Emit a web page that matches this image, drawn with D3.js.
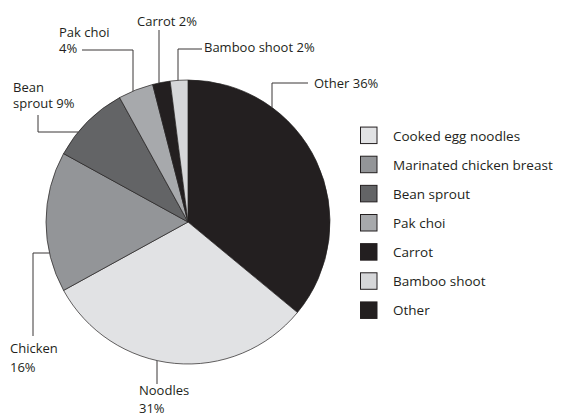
<!DOCTYPE html>
<html>
<head>
<meta charset="utf-8">
<script src="https://cdn.jsdelivr.net/npm/d3@7"></script>
<style>
  html, body { margin: 0; padding: 0; background: #fff; }
  svg text { font-family: "Open Sans", "Noto Sans", sans-serif; fill: #231f20; }
</style>
</head>
<body>
<svg id="chart" width="565" height="414"></svg>
<script>
// Slice data, clockwise from 12 o'clock
const sliceNames  = ["Other", "Noodles", "Chicken", "Bean sprout", "Pak choi", "Carrot", "Bamboo shoot"];
const sliceValues = [36, 31, 16, 9, 4, 2, 2];
const sliceColors = ["#231f20", "#e1e2e4", "#939598", "#636466", "#a7a9ac", "#231f20", "#d6d7d9"];

// Legend entries
const legendNames  = ["Cooked egg noodles", "Marinated chicken breast", "Bean sprout", "Pak choi", "Carrot", "Bamboo shoot", "Other"];
const legendColors = ["#e1e2e4", "#939598", "#636466", "#a7a9ac", "#231f20", "#d6d7d9", "#231f20"];

const svg = d3.select("#chart");
const cx = 188, cy = 222, r = 142;
const ink = "#231f20";

const pie = d3.pie().sort(null).value(d => d.value);
const arc = d3.arc().innerRadius(0).outerRadius(r);
const data = sliceNames.map((n, i) => ({ name: n, value: sliceValues[i], color: sliceColors[i] }));
const arcs = pie(data);

const g = svg.append("g").attr("transform", `translate(${cx},${cy})`);
g.selectAll("path.slice")
  .data(arcs)
  .enter().append("path")
  .attr("class", "slice")
  .attr("d", arc)
  .attr("fill", d => d.data.color)
  .attr("stroke", ink)
  .attr("stroke-width", 0.7)
  .attr("stroke-linejoin", "round");

// Point on the pie rim for a given x, on the upper or lower half
function rimY(x, upper) {
  const dx = x - cx;
  const h = Math.sqrt(Math.max(0, r * r - dx * dx));
  return upper ? cy - h : cy + h;
}
function rimX(y, left) {
  const dy = y - cy;
  const w = Math.sqrt(Math.max(0, r * r - dy * dy));
  return left ? cx - w : cx + w;
}

// Callout labels: text lines with an elbow leader to the rim
const labelText = (i) => `${sliceValues[i]}%`;
const callouts = [
  { lines: [`Other ${labelText(0)}`], x: 314, y: 88, anchor: "start",
    path: () => [[308, 83], [272, 83], [272, rimY(272, true)]] },
  { lines: ["Noodles", labelText(1)], x: 139, y: 395, anchor: "start", lh: 18,
    path: () => [[157, 384], [157, rimY(157, false)]] },
  { lines: ["Chicken", labelText(2)], x: 10, y: 353, anchor: "start", lh: 19,
    path: () => [[33, 336], [33, 253], [rimX(253, true), 253]] },
  { lines: ["Bean", `sprout ${labelText(3)}`], x: 13, y: 92, anchor: "start", lh: 16,
    path: () => [[38, 115], [38, 132], [rimX(132, true), 132]] },
  { lines: ["Pak choi", labelText(4)], x: 59, y: 37, anchor: "start", lh: 16,
    path: () => [[82, 50], [133, 50], [133, rimY(133, true)]] },
  { lines: [`Carrot ${labelText(5)}`], x: 137, y: 26, anchor: "start",
    path: () => [[159, 30], [159, rimY(159, true)]] },
  { lines: [`Bamboo shoot ${labelText(6)}`], x: 204, y: 52, anchor: "start",
    path: () => [[202, 49], [178, 49], [178, rimY(178, true)]] }
];

const line = d3.line();
callouts.forEach(c => {
  svg.append("path")
    .attr("d", line(c.path()))
    .attr("fill", "none")
    .attr("stroke", "#3a3637")
    .attr("stroke-width", 1);
  const t = svg.append("text")
    .attr("x", c.x).attr("y", c.y)
    .attr("text-anchor", c.anchor)
    .style("font-size", "13px");
  c.lines.forEach((s, k) => {
    t.append("tspan").attr("x", c.x).attr("dy", k === 0 ? 0 : (c.lh || 16)).text(s);
  });
});

// Legend
const legendY = d3.scaleBand().domain(legendNames).range([121, 325]).paddingInner(0);
const lg = svg.append("g");
const rows = lg.selectAll("g.row").data(legendNames).enter().append("g")
  .attr("class", "row")
  .attr("transform", d => `translate(360,${legendY(d) + legendY.bandwidth() / 2})`);
rows.append("rect")
  .attr("x", 0.5).attr("y", -8.5)
  .attr("width", 16.5).attr("height", 16.5)
  .attr("fill", (d, i) => legendColors[i])
  .attr("stroke", ink)
  .attr("stroke-width", 1);
rows.append("text")
  .attr("x", 33).attr("y", 5)
  .style("font-size", "13.5px")
  .text(d => d);
</script>
</body>
</html>
